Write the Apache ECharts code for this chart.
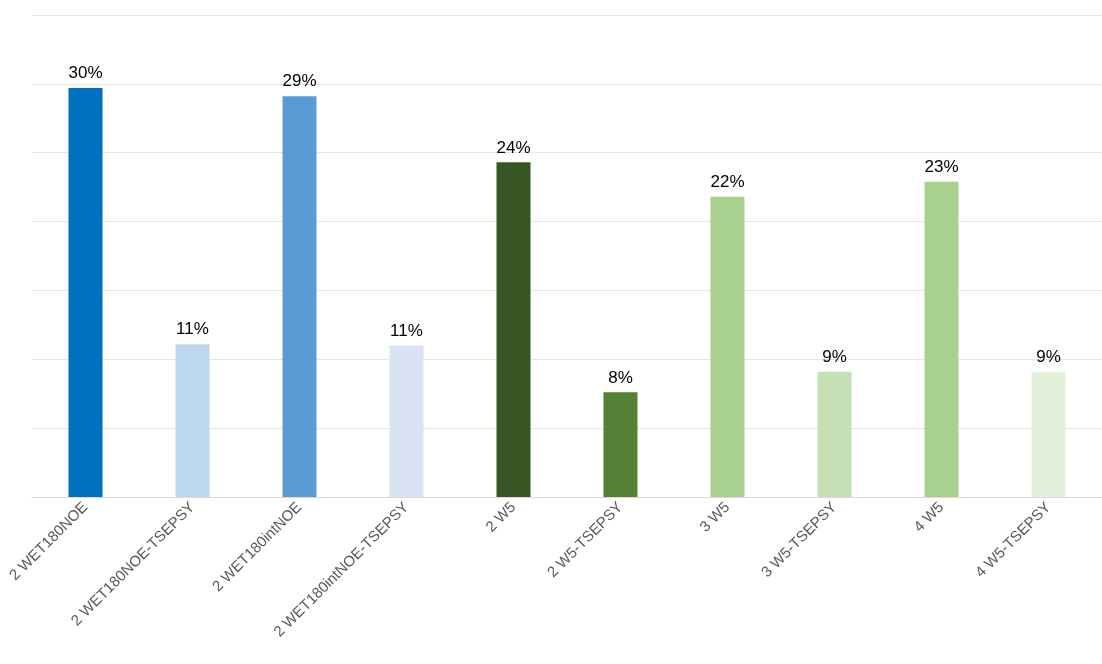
<!DOCTYPE html>
<html>
<head>
<meta charset="utf-8">
<script src="https://cdn.jsdelivr.net/npm/echarts@6/dist/echarts.min.js"></script>
<style>
html, body { margin: 0; padding: 0; background: #fff; }
#chart { width: 1102px; height: 664px; }
</style>
</head>
<body>
<div id="chart"></div>
<script>
var categories = ['2 WET180NOE', '2 WET180NOE-TSEPSY', '2 WET180intNOE', '2 WET180intNOE-TSEPSY',
  '2 W5', '2 W5-TSEPSY', '3 W5', '3 W5-TSEPSY', '4 W5', '4 W5-TSEPSY']
var values = [29.7, 11.1, 29.1, 11.0, 24.3, 7.6, 21.8, 9.1, 22.9, 9.1]
var colors = ['#0070C0', '#BDD7EE', '#5B9BD5', '#DAE3F3', '#375623', '#538135', '#A9D18E', '#C5E0B4', '#A9D18E', '#E2F0D9']

var chart = echarts.init(document.getElementById('chart'))
chart.setOption({
  animation: false,
  grid: { left: 32, right: 0, top: 15, bottom: 167 },
  xAxis: {
    type: 'category',
    data: categories,
    axisTick: { show: false },
    axisLine: { lineStyle: { color: '#d9d9d9' } },
    axisLabel: { rotate: 45, color: '#595959', fontSize: 15, fontFamily: 'Liberation Sans Narrow, Arial Narrow, sans-serif', interval: 0, margin: 8 }
  },
  yAxis: {
    type: 'value', min: 0, max: 35, interval: 5,
    axisLabel: { show: false },
    splitLine: { lineStyle: { color: '#e6e6e6' } }
  },
  series: [{
    type: 'bar',
    barWidth: 34,
    data: values.map(function (v, i) { return { value: v, itemStyle: { color: colors[i] } } }),
    label: {
      show: true, position: 'top', distance: 6, color: '#000', fontSize: 17,
      fontFamily: 'Liberation Sans Narrow, Arial Narrow, sans-serif',
      formatter: function (p) { return Math.round(p.value) + '%' }
    }
  }]
})
</script>
</body>
</html>
